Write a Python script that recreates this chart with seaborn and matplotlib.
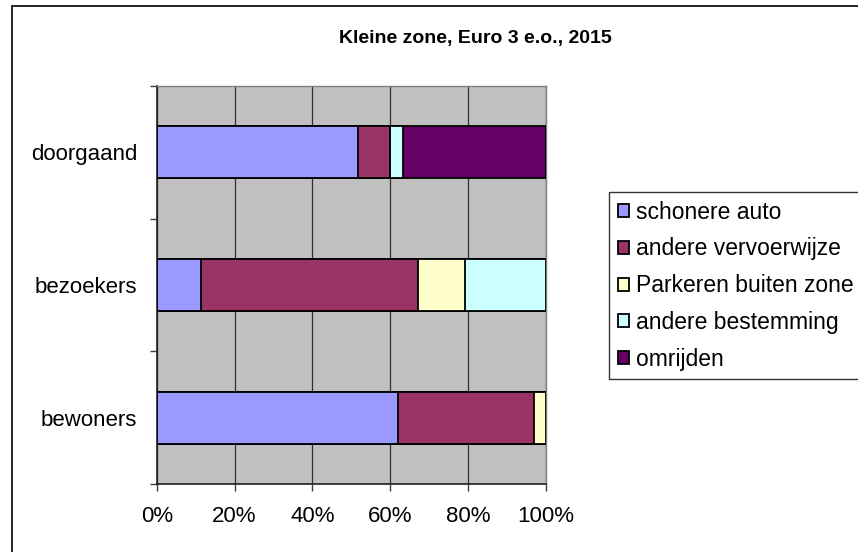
import numpy as np
import pandas as pd
import matplotlib
matplotlib.use('Agg')
import matplotlib.pyplot as plt
from matplotlib.patches import Rectangle
from matplotlib.ticker import FixedLocator, PercentFormatter
import seaborn as sns

# data (percentages)
groups = ['doorgaand', 'bezoekers', 'bewoners']
series = ['schonere auto', 'andere vervoerwijze', 'Parkeren buiten zone',
          'andere bestemming', 'omrijden']
schonere_auto = [51.6, 11.3, 62.1]
andere_vervoerwijze = [8.2, 55.8, 34.9]
parkeren_buiten_zone = [0.0, 12.2, 3.0]
andere_bestemming = [3.4, 20.7, 0.0]
omrijden = [36.8, 0.0, 0.0]
colors = ['#9999FF', '#993366', '#FFFFCC', '#CCFFFF', '#660066']

df = pd.DataFrame({'groep': groups,
                   'schonere auto': schonere_auto,
                   'andere vervoerwijze': andere_vervoerwijze,
                   'Parkeren buiten zone': parkeren_buiten_zone,
                   'andere bestemming': andere_bestemming,
                   'omrijden': omrijden})

# cumulative totals so the bars can be stacked by overdrawing
cum = df[series].cumsum(axis=1)
cum['groep'] = df['groep']

sns.set_style('white')
plt.rcParams['font.family'] = ['Liberation Sans', 'DejaVu Sans']
plt.rcParams['text.color'] = 'black'
plt.rcParams['xtick.labelcolor'] = 'black'
plt.rcParams['ytick.labelcolor'] = 'black'

fig = plt.figure(figsize=(8.58, 5.52), dpi=100)
W, H = 858, 552
ax = fig.add_axes([156.7 / W, 1 - 484 / H, (546 - 156.7) / W, (484 - 86) / H])
ax.set_facecolor('#C0C0C0')

# draw from the last series to the first, each bar covering the ones before
for name, col in reversed(list(zip(series, colors))):
    sns.barplot(data=cum, x=name, y='groep', order=groups, color=col,
                saturation=1, width=0.39, edgecolor='black', linewidth=1.3,
                label=name, ax=ax, zorder=3)
handles, labels = ax.get_legend_handles_labels()
if ax.get_legend() is not None:
    ax.get_legend().remove()

ax.set_xlim(0, 100)
ax.set_ylim(2.5, -0.5)
ax.set_xlabel('')
ax.set_ylabel('')
ax.xaxis.set_major_locator(FixedLocator([0, 20, 40, 60, 80, 100]))
ax.xaxis.set_major_formatter(PercentFormatter(decimals=0))
ax.grid(axis='x', color='#303030', linewidth=0.9, zorder=1)
ax.set_axisbelow(True)

ax.yaxis.set_minor_locator(FixedLocator([-0.5, 0.5, 1.5, 2.5]))
ax.tick_params(axis='y', which='major', length=0, pad=14, labelsize=16,
               labelcolor='black')
ax.tick_params(axis='y', which='minor', length=5, width=1, color='#404040', left=True)
ax.tick_params(axis='x', which='major', length=5, width=1, color='#404040',
               bottom=True, pad=11, labelsize=16, labelcolor='black')

for side in ['top', 'right']:
    ax.spines[side].set_color('#808080')
    ax.spines[side].set_linewidth(1)
for side in ['left', 'bottom']:
    ax.spines[side].set_color('#202020')
    ax.spines[side].set_linewidth(1.2)

fig.text(475 / W, 1 - 38 / H, 'Kleine zone, Euro 3 e.o., 2015', ha='center',
         va='center', fontsize=14, fontweight='bold', color='black')

leg = fig.legend(handles[::-1], labels[::-1], loc='upper left',
                 bbox_to_anchor=(609 / W, 1 - 192 / H), fontsize=16.5,
                 frameon=True, fancybox=False, edgecolor='black',
                 handlelength=0.5, handleheight=0.5, handletextpad=0.3,
                 labelspacing=0.6, borderpad=0.38, borderaxespad=0,
                 labelcolor='black')
leg.get_frame().set_linewidth(1)

# outer chart border (runs off the right and bottom edge)
fig.add_artist(Rectangle((12 / W, -0.1), 1.2, 1.1 - 6 / H,
                         transform=fig.transFigure, fill=False,
                         edgecolor='black', linewidth=1.2))

fig.savefig('out.png', dpi=100)
